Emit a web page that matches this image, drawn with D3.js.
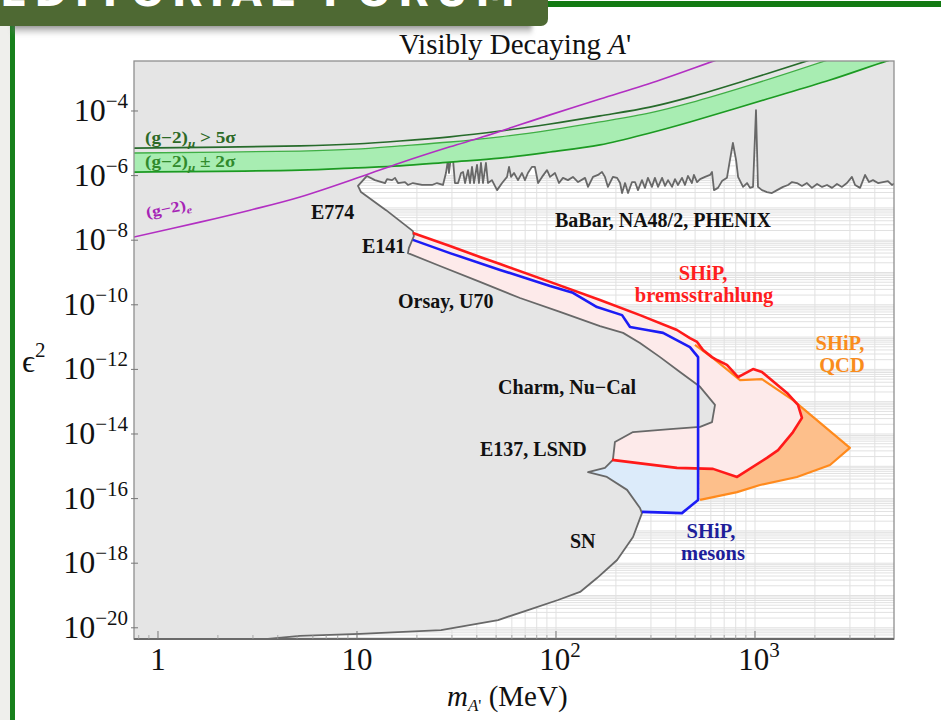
<!DOCTYPE html>
<html>
<head>
<meta charset="utf-8">
<script src="https://cdn.jsdelivr.net/npm/d3@7"></script>
<style>
  body { margin: 0; background: #ffffff; }
  svg { display: block; }
</style>
</head>
<body>
<svg id="chart" width="941" height="720"></svg>
<script>
// Every curve point is [log10(m_A' / MeV), log10(eps^2)].

// Mass ticks (MeV) and coupling tick exponents
const xTickValues = [1, 10, 100, 1000];
const xTickExponents = [0, 1, 2, 3];
const yTickExponents = [-4, -6, -8, -10, -12, -14, -16, -18, -20];

// Edge of the excluded region: E774 corner, E141, Orsay/U70, Charm/Nu-Cal, E137/LSND, SN
const excludedEdge = [
  [1.050, -6.01], [1.005, -6.32], [1.020, -6.51], [1.146, -7.07], [1.281, -7.72], [1.286, -7.87],
  [1.261, -8.24], [1.256, -8.40], [1.417, -8.80], [1.618, -9.29], [1.819, -9.79], [2.020, -10.22],
  [2.221, -10.66], [2.337, -10.87], [2.422, -11.18], [2.523, -11.62], [2.623, -12.08], [2.724, -12.54],
  [2.799, -13.10], [2.784, -13.63], [2.724, -13.78], [2.573, -13.85], [2.387, -13.94], [2.296, -14.25],
  [2.286, -14.80], [2.246, -15.05], [2.161, -15.18], [2.256, -15.33], [2.357, -15.73], [2.422, -16.29],
  [2.432, -16.45], [2.387, -17.19], [2.307, -17.90], [2.206, -18.46], [2.121, -18.89], [2.010, -19.14],
  [1.859, -19.45], [1.709, -19.76], [1.422, -20.07], [1.015, -20.19], [0.714, -20.25], [0.538, -20.35]
];

// BaBar, NA48/2, PHENIX upper limit
const babarLimit = [
  [1.050, -6.01], [1.090, -6.14], [1.141, -6.23], [1.151, -6.11], [1.176, -6.14], [1.191, -6.07],
  [1.206, -6.23], [1.241, -6.20], [1.256, -6.29], [1.281, -6.23], [1.327, -6.29], [1.377, -6.29],
  [1.402, -6.23], [1.432, -6.29], [1.447, -5.92], [1.457, -5.52], [1.462, -5.92], [1.472, -5.42],
  [1.482, -5.46], [1.492, -6.23], [1.508, -6.23], [1.523, -5.92], [1.533, -5.89], [1.543, -6.23],
  [1.558, -5.83], [1.568, -6.23], [1.578, -5.73], [1.588, -6.23], [1.603, -5.67], [1.613, -6.23],
  [1.623, -5.61], [1.633, -6.23], [1.648, -5.61], [1.658, -6.23], [1.678, -6.14], [1.704, -6.45],
  [1.729, -6.23], [1.754, -6.04], [1.764, -5.73], [1.774, -6.04], [1.789, -5.92], [1.809, -6.14],
  [1.829, -5.92], [1.844, -6.14], [1.859, -5.92], [1.879, -5.73], [1.894, -5.73], [1.910, -6.23],
  [1.930, -6.04], [1.955, -5.83], [1.970, -6.04], [1.995, -5.92], [2.015, -6.23], [2.035, -6.07],
  [2.060, -6.14], [2.085, -6.04], [2.111, -6.20], [2.146, -6.07], [2.161, -6.35], [2.186, -6.04],
  [2.211, -5.98], [2.231, -5.89], [2.246, -6.04], [2.261, -6.35], [2.286, -6.04], [2.307, -6.07],
  [2.322, -6.23], [2.332, -6.54], [2.347, -6.23], [2.362, -6.54], [2.382, -6.20], [2.397, -6.20],
  [2.412, -6.45], [2.432, -6.14], [2.447, -6.38], [2.462, -6.07], [2.482, -6.35], [2.497, -6.07],
  [2.513, -6.35], [2.533, -6.07], [2.548, -6.32], [2.563, -6.14], [2.583, -6.35], [2.598, -6.11],
  [2.613, -6.29], [2.633, -6.07], [2.648, -6.29], [2.663, -6.01], [2.683, -6.23], [2.693, -5.98],
  [2.709, -6.20], [2.724, -6.11], [2.749, -6.04], [2.774, -5.98], [2.784, -5.89], [2.794, -6.45],
  [2.814, -6.38], [2.834, -6.17], [2.859, -6.07], [2.874, -5.52], [2.889, -4.99], [2.905, -5.52],
  [2.915, -6.04], [2.940, -6.35], [2.960, -6.23], [2.975, -6.38], [2.990, -6.35], [3.005, -3.97],
  [3.015, -6.35], [3.035, -6.45], [3.060, -6.51], [3.085, -6.54], [3.111, -6.45], [3.141, -6.35],
  [3.166, -6.29], [3.186, -6.20], [3.211, -6.23], [3.236, -6.32], [3.261, -6.23], [3.286, -6.38],
  [3.312, -6.26], [3.337, -6.35], [3.362, -6.29], [3.387, -6.38], [3.412, -6.26], [3.437, -6.35],
  [3.462, -6.23], [3.487, -6.04], [3.503, -6.29], [3.528, -6.38], [3.553, -5.98], [3.573, -6.20],
  [3.593, -6.14], [3.618, -6.23], [3.643, -6.20], [3.668, -6.17], [3.688, -6.29], [3.704, -6.23]
];

// SHiP sensitivity contours
const shipBrems = [
  [1.281, -7.78], [1.467, -8.18], [1.618, -8.52], [1.719, -8.74], [1.970, -9.29], [2.221, -9.85],
  [2.422, -10.32], [2.608, -10.78], [2.673, -11.03], [2.709, -11.15], [2.739, -11.40], [2.784, -11.62],
  [2.809, -11.71], [2.859, -11.86], [2.915, -12.24], [2.990, -11.99], [3.035, -12.08], [3.161, -12.73],
  [3.216, -13.10], [3.236, -13.50], [3.191, -13.94], [3.116, -14.50], [3.060, -14.74], [2.910, -15.33],
  [2.789, -15.08], [2.608, -15.05], [2.281, -14.80]
];
const shipMesons = [
  [1.281, -7.99], [1.467, -8.40], [1.719, -8.92], [1.970, -9.42], [2.085, -9.63], [2.206, -10.07],
  [2.332, -10.32], [2.372, -10.69], [2.457, -10.78], [2.538, -10.87], [2.673, -11.31], [2.714, -11.62],
  [2.714, -16.04], [2.633, -16.45], [2.432, -16.41]
];
const shipQCD = [
  [2.698, -11.24], [2.789, -11.65], [2.925, -12.33], [3.035, -12.30], [3.191, -12.95], [3.477, -14.43],
  [3.377, -14.96], [3.211, -15.33], [3.025, -15.58], [2.910, -15.80], [2.724, -16.04]
];
// points inside the excluded area used to close the shaded SHiP regions
const bremsClosure = [[1.90, -14.0], [1.10, -8.30]];
const mesonsClosure = [[2.07, -15.42], [1.90, -14.2], [1.10, -8.50]];

// Anomalous magnetic moment curves
const gm2Mu5sigma = [
  [-0.121, -5.15], [0.714, -5.08], [0.990, -5.02], [1.216, -4.93], [1.467, -4.80], [1.719, -4.62],
  [1.970, -4.40], [2.221, -4.15], [2.472, -3.88], [2.673, -3.57], [2.975, -3.01], [3.261, -2.45], [3.427, -2.11]
];
const gm2MuBandHigh = [
  [-0.121, -5.30], [0.714, -5.24], [0.990, -5.18], [1.216, -5.08], [1.467, -4.96], [1.719, -4.80],
  [1.970, -4.59], [2.221, -4.34], [2.472, -4.06], [2.673, -3.75], [2.975, -3.20], [3.352, -2.45], [3.528, -2.08]
];
const gm2MuBandLow = [
  [-0.121, -5.89], [0.714, -5.83], [0.990, -5.76], [1.216, -5.70], [1.467, -5.58], [1.719, -5.46],
  [1.970, -5.27], [2.221, -5.05], [2.472, -4.68], [2.673, -4.34], [3.060, -3.63], [3.377, -3.04],
  [3.663, -2.45], [3.779, -2.24]
];
const gm2Electron = [
  [-0.121, -7.90], [0.211, -7.44], [0.462, -7.07], [0.714, -6.66], [1.030, -6.01], [1.216, -5.61],
  [1.467, -5.11], [1.633, -4.80], [1.970, -4.12], [2.221, -3.63], [2.523, -3.04], [2.794, -2.45], [2.925, -2.17]
];

// Region annotations: text, anchor point, alignment, colour
const regionLabels = [
  { text: "E774", at: [0.769, -7.34], anchor: "start", color: "#111", size: 20 },
  { text: "E141", at: [1.025, -8.40], anchor: "start", color: "#111", size: 20 },
  { text: "Orsay, U70", at: [1.206, -10.10], anchor: "start", color: "#111", size: 20 },
  { text: "BaBar, NA48/2, PHENIX", at: [1.995, -7.59], anchor: "start", color: "#111", size: 20 },
  { text: "SHiP,", at: [2.739, -9.23], anchor: "middle", color: "#ff1e1e", size: 20.5 },
  { text: "bremsstrahlung", at: [2.744, -9.90], anchor: "middle", color: "#ff1e1e", size: 20.5 },
  { text: "SHiP,", at: [3.427, -11.40], anchor: "middle", color: "#f98c1c", size: 20.5 },
  { text: "QCD", at: [3.437, -12.07], anchor: "middle", color: "#f98c1c", size: 20.5 },
  { text: "Charm, Nu\u2212Cal", at: [1.709, -12.76], anchor: "start", color: "#111", size: 20 },
  { text: "E137, LSND", at: [1.618, -14.68], anchor: "start", color: "#111", size: 20 },
  { text: "SN", at: [2.070, -17.53], anchor: "start", color: "#111", size: 20 },
  { text: "SHiP,", at: [2.779, -17.22], anchor: "middle", color: "#1e1e9a", size: 20.5 },
  { text: "mesons", at: [2.789, -17.90], anchor: "middle", color: "#1e1e9a", size: 20.5 }
];

// ---------------------------------------------------------------------------
const svg = d3.select("#chart");
const frame = { left: 134, right: 894, top: 61, bottom: 639 };
const serif = "'Liberation Serif', 'Times New Roman', Times, serif";

const x = d3.scaleLog().domain([Math.pow(10, -0.1206), Math.pow(10, 3.6985)]).range([frame.left, frame.right]);
const y = d3.scaleLog().domain([Math.pow(10, -20.347), Math.pow(10, -2.452)]).range([frame.bottom, frame.top]);
const px = d => x(Math.pow(10, d[0]));
const py = d => y(Math.pow(10, d[1]));
const line = d3.line().x(px).y(py);
const smooth = d3.line().x(px).y(py).curve(d3.curveCatmullRom.alpha(0.5));

// Allowed (white) region: below the BaBar limit and right of the excluded edge
const allowedRegion = babarLimit
  .concat([[3.75, -6.23], [3.75, -20.6], [0.45, -20.6]])
  .concat(excludedEdge.slice().reverse());

const defs = svg.append("defs");
defs.append("clipPath").attr("id", "plotClip")
  .append("rect")
  .attr("x", frame.left).attr("y", frame.top)
  .attr("width", frame.right - frame.left).attr("height", frame.bottom - frame.top);
defs.append("clipPath").attr("id", "allowedClip")
  .append("path").attr("d", line(allowedRegion) + "Z");
const blur = defs.append("filter").attr("id", "soft").attr("x", "-10%").attr("y", "-100%")
  .attr("width", "120%").attr("height", "300%");
blur.append("feGaussianBlur").attr("stdDeviation", 2.2);
const shade = defs.append("linearGradient").attr("id", "shade")
  .attr("x1", 0).attr("y1", 0).attr("x2", 0).attr("y2", 1);
shade.append("stop").attr("offset", "0%").attr("stop-color", "#4a4a4a").attr("stop-opacity", 0.85);
shade.append("stop").attr("offset", "100%").attr("stop-color", "#9a9a9a").attr("stop-opacity", 0.0);

// ---- slide decoration ----
svg.append("rect").attr("x", 0).attr("y", 0).attr("width", 10).attr("height", 720).attr("fill", "#efefec");
svg.append("rect").attr("x", 10).attr("y", 24).attr("width", 5).attr("height", 696).attr("fill", "#17801b");
svg.append("rect").attr("x", 546).attr("y", 1).attr("width", 395).attr("height", 6).attr("fill", "#137a13");
svg.append("rect").attr("x", 12).attr("y", 22).attr("width", 520).attr("height", 14)
  .attr("fill", "url(#shade)").attr("filter", "url(#soft)");
svg.append("rect").attr("x", -12).attr("y", -12).attr("width", 560).attr("height", 38)
  .attr("rx", 7).attr("fill", "#4e6933");
svg.append("text").attr("x", 0).attr("y", 6)
  .attr("font-family", "'DejaVu Sans', sans-serif").attr("font-weight", "bold")
  .attr("font-size", 40).attr("fill", "#ffffff")
  .attr("textLength", 515).attr("lengthAdjust", "spacing")
  .text("EDITORIAL FORUM");

// ---- plot body ----
svg.append("rect")
  .attr("x", frame.left).attr("y", frame.top)
  .attr("width", frame.right - frame.left).attr("height", frame.bottom - frame.top)
  .attr("fill", "#e5e5e5");

const body = svg.append("g").attr("clip-path", "url(#plotClip)");
body.append("path").attr("d", line(allowedRegion) + "Z").attr("fill", "#ffffff");

// log grid inside the allowed region
const grid = body.append("g").attr("clip-path", "url(#allowedClip)");
const massGrid = [];
for (let e = -1; e <= 3; e++) for (let k = 1; k <= 9; k++) massGrid.push(k * Math.pow(10, e));
const epsGrid = [];
for (let e = -21; e <= -3; e++) for (let k = 1; k <= 9; k++) epsGrid.push(k * Math.pow(10, e));
grid.selectAll("line.vg").data(massGrid.filter(v => v > x.domain()[0] && v < x.domain()[1]))
  .join("line").attr("class", "vg")
  .attr("x1", d => x(d)).attr("x2", d => x(d))
  .attr("y1", frame.top).attr("y2", frame.bottom)
  .attr("stroke", "#e1e1e1").attr("stroke-width", 1);
grid.selectAll("line.hg").data(epsGrid.filter(v => v > y.domain()[0] && v < y.domain()[1]))
  .join("line").attr("class", "hg")
  .attr("x1", frame.left).attr("x2", frame.right)
  .attr("y1", d => y(d)).attr("y2", d => y(d))
  .attr("stroke", "#e1e1e1").attr("stroke-width", 1);

// SHiP filled regions (clipped to the allowed region)
const fills = body.append("g").attr("clip-path", "url(#allowedClip)");
fills.append("path").attr("d", line(shipMesons.concat(mesonsClosure)) + "Z").attr("fill", "#dcebfa");
fills.append("path").attr("d", line(shipQCD) + "Z").attr("fill", "#fdbf8b");
fills.append("path").attr("d", line(shipBrems.concat(bremsClosure)) + "Z").attr("fill", "#fdeaea");

// boundary of the excluded region
body.append("path")
  .attr("d", line(excludedEdge.slice().reverse().concat(babarLimit.slice(1))))
  .attr("fill", "none").attr("stroke", "#686868").attr("stroke-width", 1.8)
  .attr("stroke-linejoin", "round");

// (g-2)_mu band and lines
body.append("path")
  .attr("d", smooth(gm2MuBandHigh) + "L" + smooth(gm2MuBandLow.slice().reverse()).slice(1) + "Z")
  .attr("fill", "#a8edb2");
body.append("path").attr("d", smooth(gm2MuBandHigh)).attr("fill", "none")
  .attr("stroke", "#3fae45").attr("stroke-width", 1.3);
body.append("path").attr("d", smooth(gm2MuBandLow)).attr("fill", "none")
  .attr("stroke", "#1c9a22").attr("stroke-width", 1.7);
body.append("path").attr("d", smooth(gm2Mu5sigma)).attr("fill", "none")
  .attr("stroke", "#276b2b").attr("stroke-width", 1.6);
body.append("path").attr("d", smooth(gm2Electron)).attr("fill", "none")
  .attr("stroke", "#b22fc2").attr("stroke-width", 1.6);

// SHiP contour lines
body.append("path").attr("d", line(shipQCD)).attr("fill", "none")
  .attr("stroke", "#ff8a1c").attr("stroke-width", 2.2).attr("stroke-linejoin", "round");
body.append("path").attr("d", line(shipBrems)).attr("fill", "none")
  .attr("stroke", "#ff1a1a").attr("stroke-width", 2.6).attr("stroke-linejoin", "round");
body.append("path").attr("d", line(shipMesons)).attr("fill", "none")
  .attr("stroke", "#1c1cf5").attr("stroke-width", 2.6).attr("stroke-linejoin", "round");

// region labels
svg.append("g").selectAll("text").data(regionLabels).join("text")
  .attr("x", d => px(d.at)).attr("y", d => py(d.at))
  .attr("text-anchor", d => d.anchor)
  .attr("font-family", serif).attr("font-weight", "bold")
  .attr("font-size", d => d.size).attr("fill", d => d.color)
  .text(d => d.text);

// (g-2) labels
function gm2Label(at, color, sub, tail, angle, size) {
  const t = svg.append("text")
    .attr("transform", `translate(${px(at)},${py(at)}) rotate(${angle}) scale(1.2,1)`)
    .attr("font-family", serif).attr("font-weight", "bold")
    .attr("font-size", size).attr("fill", color);
  t.append("tspan").text("(g\u22122)");
  t.append("tspan").attr("font-size", size * 0.68).attr("dy", 4).attr("font-style", "italic").text(sub);
  if (tail) t.append("tspan").attr("dy", -4).text(tail);
}
gm2Label([-0.065, -5.00], "#2d6a27", "\u03bc", " > 5\u03c3", 0, 16);
gm2Label([-0.065, -5.73], "#318a2c", "\u03bc", " \u00b1 2\u03c3", 0, 16);
gm2Label([-0.055, -7.30], "#a624b6", "e", "", -11, 15);

// frame
svg.append("rect")
  .attr("x", frame.left).attr("y", frame.top)
  .attr("width", frame.right - frame.left).attr("height", frame.bottom - frame.top)
  .attr("fill", "none").attr("stroke", "#8f8f8f").attr("stroke-width", 1.3);
svg.append("line").attr("x1", frame.left).attr("x2", frame.right)
  .attr("y1", frame.bottom).attr("y2", frame.bottom)
  .attr("stroke", "#6a6a6a").attr("stroke-width", 2);

// ticks
const axisG = svg.append("g");
axisG.selectAll("line.xt").data(xTickValues).join("line").attr("class", "xt")
  .attr("x1", d => x(d)).attr("x2", d => x(d))
  .attr("y1", frame.bottom).attr("y2", frame.bottom - 8)
  .attr("stroke", "#777").attr("stroke-width", 1);
const minorMass = massGrid.filter(v => v > x.domain()[0] && v < x.domain()[1] && !xTickValues.includes(v));
axisG.selectAll("line.xm").data(minorMass).join("line").attr("class", "xm")
  .attr("x1", d => x(d)).attr("x2", d => x(d))
  .attr("y1", frame.bottom).attr("y2", frame.bottom - 4)
  .attr("stroke", "#999").attr("stroke-width", 0.8);
axisG.selectAll("line.yt").data(yTickExponents).join("line").attr("class", "yt")
  .attr("x1", frame.left - 3).attr("x2", frame.left + 4)
  .attr("y1", d => y(Math.pow(10, d))).attr("y2", d => y(Math.pow(10, d)))
  .attr("stroke", "#777").attr("stroke-width", 1);

// y tick labels 10^n
yTickExponents.forEach(e => {
  const t = svg.append("text")
    .attr("x", frame.left - 6).attr("y", y(Math.pow(10, e)) + 10)
    .attr("text-anchor", "end")
    .attr("font-family", serif).attr("font-size", 32).attr("fill", "#111");
  t.append("tspan").text("10");
  t.append("tspan").attr("font-size", 21).attr("dy", -13).text("\u2212" + Math.abs(e));
});

// x tick labels
xTickValues.forEach((v, i) => {
  const ex = xTickExponents[i];
  const t = svg.append("text")
    .attr("x", x(v) + (ex >= 2 ? 4 : 0)).attr("y", frame.bottom + 31)
    .attr("text-anchor", "middle")
    .attr("font-family", serif).attr("font-size", 31).attr("fill", "#111");
  t.append("tspan").text(ex === 0 ? "1" : "10");
  if (ex >= 2) t.append("tspan").attr("font-size", 21).attr("dy", -13).text(String(ex));
});

// title
const title = svg.append("text").attr("x", 515).attr("y", 54).attr("text-anchor", "middle")
  .attr("font-family", serif).attr("font-size", 29).attr("fill", "#111");
title.append("tspan").text("Visibly Decaying ");
title.append("tspan").attr("font-style", "italic").text("A");
title.append("tspan").text("'");

// x axis title
const xt = svg.append("text").attr("x", 447).attr("y", 706)
  .attr("font-family", serif).attr("font-size", 29).attr("fill", "#111");
xt.append("tspan").attr("font-style", "italic").text("m");
xt.append("tspan").attr("font-style", "italic").attr("font-size", 17).attr("dy", 5).text("A");
xt.append("tspan").attr("font-size", 17).text("'");
xt.append("tspan").attr("dy", -5).text(" (MeV)");

// y axis title
const yt = svg.append("text").attr("x", 22).attr("y", 372)
  .attr("font-family", serif).attr("font-size", 32).attr("fill", "#111");
yt.append("tspan").text("\u03f5");
yt.append("tspan").attr("font-size", 21).attr("dy", -15).text("2");
</script>
</body>
</html>
